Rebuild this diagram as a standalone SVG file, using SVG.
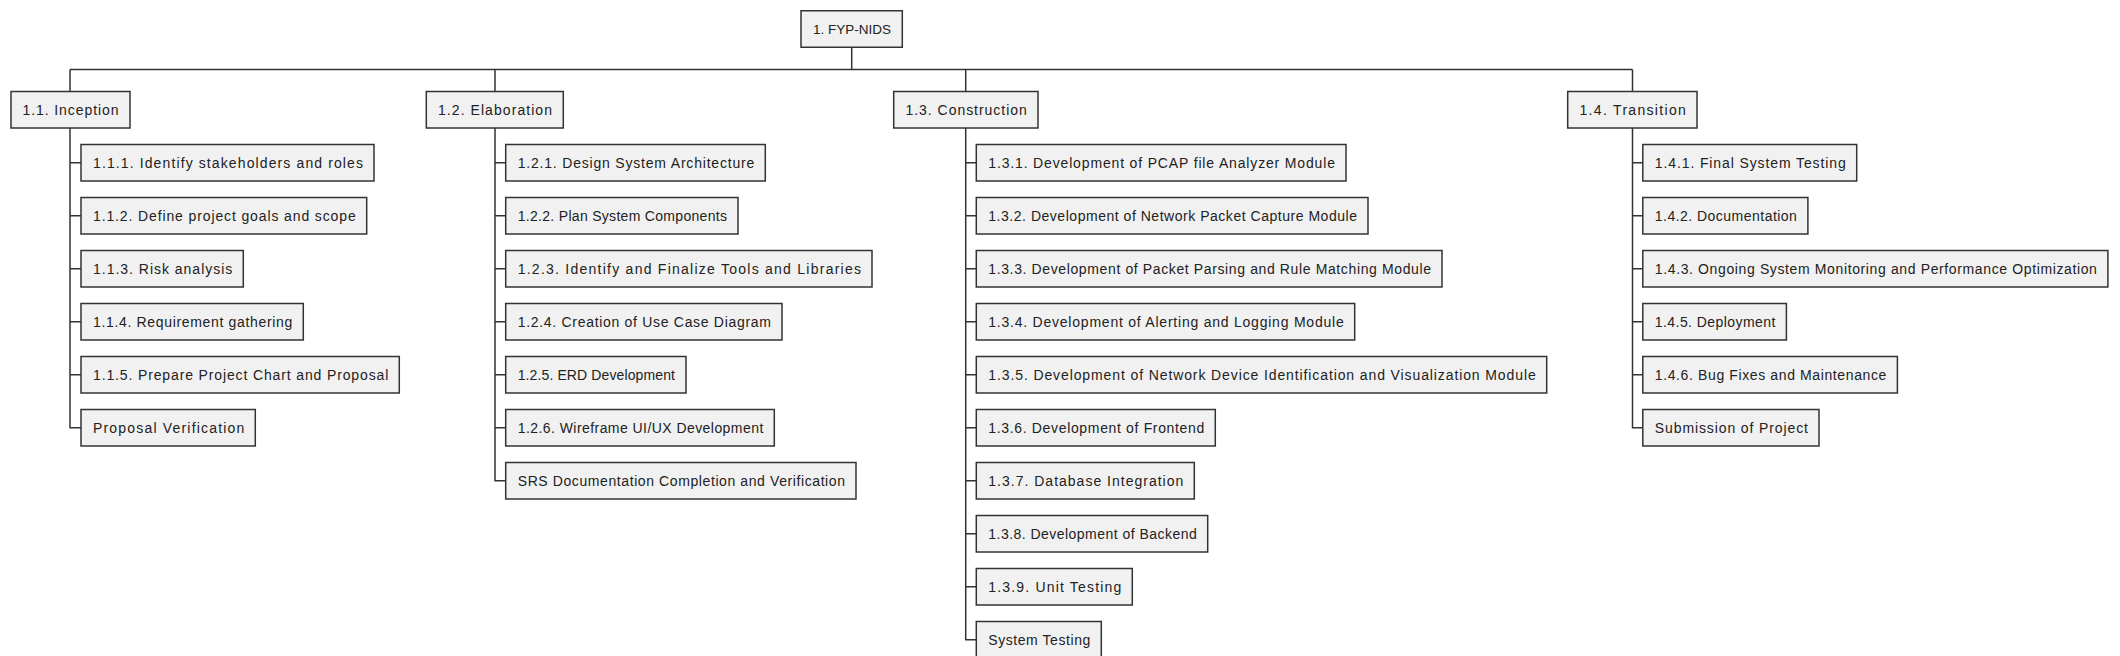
<svg xmlns="http://www.w3.org/2000/svg" width="2120" height="656" viewBox="0 0 2120 656">
<style>
.bg{fill:#ffffff}
.box{fill:#f1f1f1;stroke:#333333;stroke-width:1.5}
.t{font-family:"Liberation Sans",Arial,sans-serif;font-size:14px;fill:#222222}
.root{font-family:"Liberation Sans",Arial,sans-serif;font-size:13.5px;fill:#222222}
.c{fill:none;stroke:#333333;stroke-width:1.5}
</style>
<rect class="bg" x="0" y="0" width="2120" height="656"/>
<g id="connectors">
<path class="c" d="M851.7 47.3V69.5M70 69.5H1632.5M70 69.5V91.5M495 69.5V91.5M965.7 69.5V91.5M1632.5 69.5V91.5"/>
<path class="c" d="M70 128V427.75H81M70 162.75H81M70 215.75H81M70 268.75H81M70 321.75H81M70 374.75H81"/>
<path class="c" d="M495 128V480.75H505.7M495 162.75H505.7M495 215.75H505.7M495 268.75H505.7M495 321.75H505.7M495 374.75H505.7M495 427.75H505.7"/>
<path class="c" d="M965.7 128V639.75H976.3M965.7 162.75H976.3M965.7 215.75H976.3M965.7 268.75H976.3M965.7 321.75H976.3M965.7 374.75H976.3M965.7 427.75H976.3M965.7 480.75H976.3M965.7 533.75H976.3M965.7 586.75H976.3"/>
<path class="c" d="M1632.5 128V427.75H1642.8M1632.5 162.75H1642.8M1632.5 215.75H1642.8M1632.5 268.75H1642.8M1632.5 321.75H1642.8M1632.5 374.75H1642.8"/>
</g>
<g id="n1"><rect class="box" x="801" y="10.75" width="101.3" height="36.5"/><text class="root" x="813" y="34" textLength="78" lengthAdjust="spacing">1. FYP-NIDS</text></g>

<g id="n1_1"><rect class="box" x="11" y="91.5" width="119" height="36.5"/><text class="t" x="22.5" y="115" textLength="96" lengthAdjust="spacing">1.1. Inception</text></g>
<g id="n1_1_1"><rect class="box" x="81" y="144.5" width="293" height="36.5"/><text class="t" x="93" y="168" textLength="270" lengthAdjust="spacing">1.1.1. Identify stakeholders and roles</text></g>
<g id="n1_1_2"><rect class="box" x="81" y="197.5" width="285.7" height="36.5"/><text class="t" x="93" y="221" textLength="262.7" lengthAdjust="spacing">1.1.2. Define project goals and scope</text></g>
<g id="n1_1_3"><rect class="box" x="81" y="250.5" width="162.3" height="36.5"/><text class="t" x="93" y="274" textLength="139.3" lengthAdjust="spacing">1.1.3. Risk analysis</text></g>
<g id="n1_1_4"><rect class="box" x="81" y="303.5" width="222.3" height="36.5"/><text class="t" x="93" y="327" textLength="199.3" lengthAdjust="spacing">1.1.4. Requirement gathering</text></g>
<g id="n1_1_5"><rect class="box" x="81" y="356.5" width="318.3" height="36.5"/><text class="t" x="93" y="380" textLength="295.3" lengthAdjust="spacing">1.1.5. Prepare Project Chart and Proposal</text></g>
<g id="n1_1_6"><rect class="box" x="81" y="409.5" width="174.3" height="36.5"/><text class="t" x="93" y="433" textLength="151.3" lengthAdjust="spacing">Proposal Verification</text></g>

<g id="n1_2"><rect class="box" x="426.3" y="91.5" width="137" height="36.5"/><text class="t" x="438" y="115" textLength="114" lengthAdjust="spacing">1.2. Elaboration</text></g>
<g id="n1_2_1"><rect class="box" x="505.7" y="144.5" width="259.6" height="36.5"/><text class="t" x="517.7" y="168" textLength="236.6" lengthAdjust="spacing">1.2.1. Design System Architecture</text></g>
<g id="n1_2_2"><rect class="box" x="505.7" y="197.5" width="232.3" height="36.5"/><text class="t" x="517.7" y="221" textLength="209.3" lengthAdjust="spacing">1.2.2. Plan System Components</text></g>
<g id="n1_2_3"><rect class="box" x="505.7" y="250.5" width="366.3" height="36.5"/><text class="t" x="517.7" y="274" textLength="343.3" lengthAdjust="spacing">1.2.3. Identify and Finalize Tools and Libraries</text></g>
<g id="n1_2_4"><rect class="box" x="505.7" y="303.5" width="276.3" height="36.5"/><text class="t" x="517.7" y="327" textLength="253.3" lengthAdjust="spacing">1.2.4. Creation of Use Case Diagram</text></g>
<g id="n1_2_5"><rect class="box" x="505.7" y="356.5" width="180.3" height="36.5"/><text class="t" x="517.7" y="380" textLength="157.3" lengthAdjust="spacing">1.2.5. ERD Development</text></g>
<g id="n1_2_6"><rect class="box" x="505.7" y="409.5" width="268.6" height="36.5"/><text class="t" x="517.7" y="433" textLength="245.6" lengthAdjust="spacing">1.2.6. Wireframe UI/UX Development</text></g>
<g id="n1_2_7"><rect class="box" x="505.7" y="462.5" width="350.3" height="36.5"/><text class="t" x="517.7" y="486" textLength="327.3" lengthAdjust="spacing">SRS Documentation Completion and Verification</text></g>

<g id="n1_3"><rect class="box" x="893.7" y="91.5" width="144.3" height="36.5"/><text class="t" x="905.5" y="115" textLength="121.3" lengthAdjust="spacing">1.3. Construction</text></g>
<g id="n1_3_1"><rect class="box" x="976.3" y="144.5" width="369.7" height="36.5"/><text class="t" x="988.3" y="168" textLength="346.7" lengthAdjust="spacing">1.3.1. Development of PCAP file Analyzer Module</text></g>
<g id="n1_3_2"><rect class="box" x="976.3" y="197.5" width="391.7" height="36.5"/><text class="t" x="988.3" y="221" textLength="368.7" lengthAdjust="spacing">1.3.2. Development of Network Packet Capture Module</text></g>
<g id="n1_3_3"><rect class="box" x="976.3" y="250.5" width="465.7" height="36.5"/><text class="t" x="988.3" y="274" textLength="442.7" lengthAdjust="spacing">1.3.3. Development of Packet Parsing and Rule Matching Module</text></g>
<g id="n1_3_4"><rect class="box" x="976.3" y="303.5" width="378.4" height="36.5"/><text class="t" x="988.3" y="327" textLength="355.4" lengthAdjust="spacing">1.3.4. Development of Alerting and Logging Module</text></g>
<g id="n1_3_5"><rect class="box" x="976.3" y="356.5" width="570.4" height="36.5"/><text class="t" x="988.3" y="380" textLength="547.4" lengthAdjust="spacing">1.3.5. Development of Network Device Identification and Visualization Module</text></g>
<g id="n1_3_6"><rect class="box" x="976.3" y="409.5" width="239" height="36.5"/><text class="t" x="988.3" y="433" textLength="216" lengthAdjust="spacing">1.3.6. Development of Frontend</text></g>
<g id="n1_3_7"><rect class="box" x="976.3" y="462.5" width="218" height="36.5"/><text class="t" x="988.3" y="486" textLength="195" lengthAdjust="spacing">1.3.7. Database Integration</text></g>
<g id="n1_3_8"><rect class="box" x="976.3" y="515.5" width="231.4" height="36.5"/><text class="t" x="988.3" y="539" textLength="208.4" lengthAdjust="spacing">1.3.8. Development of Backend</text></g>
<g id="n1_3_9"><rect class="box" x="976.3" y="568.5" width="156" height="36.5"/><text class="t" x="988.3" y="592" textLength="133" lengthAdjust="spacing">1.3.9. Unit Testing</text></g>
<g id="n1_3_10"><rect class="box" x="976.3" y="621.5" width="125" height="36.5"/><text class="t" x="988.3" y="645" textLength="102" lengthAdjust="spacing">System Testing</text></g>

<g id="n1_4"><rect class="box" x="1567.7" y="91.5" width="129.3" height="36.5"/><text class="t" x="1579.5" y="115" textLength="106.3" lengthAdjust="spacing">1.4. Transition</text></g>
<g id="n1_4_1"><rect class="box" x="1642.8" y="144.5" width="213.9" height="36.5"/><text class="t" x="1654.8" y="168" textLength="190.9" lengthAdjust="spacing">1.4.1. Final System Testing</text></g>
<g id="n1_4_2"><rect class="box" x="1642.8" y="197.5" width="165.1" height="36.5"/><text class="t" x="1654.8" y="221" textLength="142.1" lengthAdjust="spacing">1.4.2. Documentation</text></g>
<g id="n1_4_3"><rect class="box" x="1642.8" y="250.5" width="465.1" height="36.5"/><text class="t" x="1654.8" y="274" textLength="442.1" lengthAdjust="spacing">1.4.3. Ongoing System Monitoring and Performance Optimization</text></g>
<g id="n1_4_5"><rect class="box" x="1642.8" y="303.5" width="143.6" height="36.5"/><text class="t" x="1654.8" y="327" textLength="120.6" lengthAdjust="spacing">1.4.5. Deployment</text></g>
<g id="n1_4_6"><rect class="box" x="1642.8" y="356.5" width="254.6" height="36.5"/><text class="t" x="1654.8" y="380" textLength="231.6" lengthAdjust="spacing">1.4.6. Bug Fixes and Maintenance</text></g>
<g id="n1_4_7"><rect class="box" x="1642.8" y="409.5" width="176.2" height="36.5"/><text class="t" x="1654.8" y="433" textLength="153.2" lengthAdjust="spacing">Submission of Project</text></g>
</svg>
